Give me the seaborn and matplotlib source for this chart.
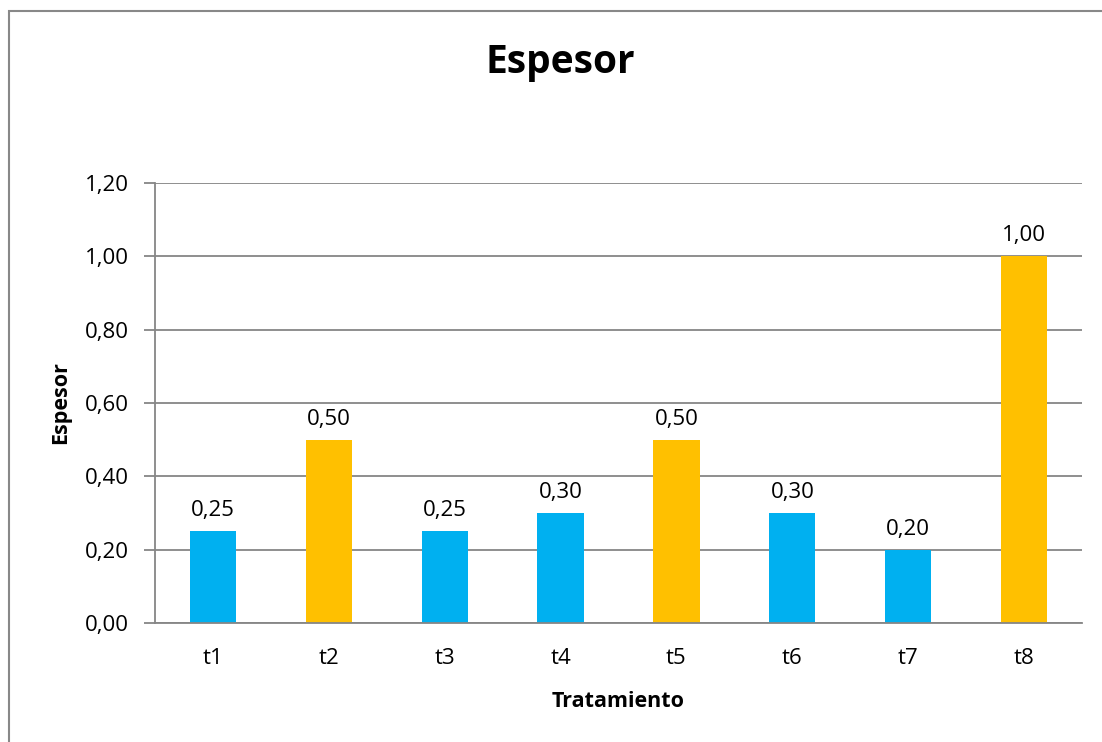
import matplotlib
matplotlib.use("Agg")
import matplotlib.pyplot as plt
import seaborn as sns
import pandas as pd
from matplotlib.patches import Rectangle
from matplotlib.ticker import FuncFormatter

categories = ["t1", "t2", "t3", "t4", "t5", "t6", "t7", "t8"]
values = [0.25, 0.50, 0.25, 0.30, 0.50, 0.30, 0.20, 1.00]
bar_colors = ["#00B0F0", "#FFC000", "#00B0F0", "#00B0F0", "#FFC000", "#00B0F0", "#00B0F0", "#FFC000"]
y_ticks = [0.0, 0.2, 0.4, 0.6, 0.8, 1.0, 1.2]
title = "Espesor"
x_label = "Tratamiento"
y_label = "Espesor"

sns.set_theme(style="white")
plt.rcParams['font.family'] = ['Open Sans', 'DejaVu Sans']
plt.rcParams['text.color'] = 'black'

df = pd.DataFrame({"cat": categories, "val": values})

fig = plt.figure(figsize=(11.02, 7.42), dpi=100)
fig.patch.set_facecolor("white")
# chart outer border
fig.add_artist(Rectangle((9/1102, -0.05), 1.2, (742-11)/742 + 0.05, transform=fig.transFigure,
                         fill=False, edgecolor="#888888", linewidth=1.5))

ax = fig.add_axes([155/1102, (742-623)/742, (1082-155)/1102, (623-183)/742])
sns.barplot(data=df, x="cat", y="val", hue="cat", palette=bar_colors, width=0.4,
            legend=False, ax=ax, saturation=1, linewidth=0)

ax.set_ylim(0, 1.2)
ax.set_xlim(-0.5, len(categories) - 0.5)
ax.set_yticks(y_ticks)
ax.yaxis.set_major_formatter(FuncFormatter(lambda v, p: f"{v:.2f}".replace(".", ",")))
ax.grid(axis="y", color="#868686", linewidth=1.3)
ax.set_axisbelow(True)
for s in ["top", "right"]:
    ax.spines[s].set_visible(False)
for s in ["left", "bottom"]:
    ax.spines[s].set_color("#868686")
    ax.spines[s].set_linewidth(1.3)
ax.tick_params(axis="y", length=8, width=1.3, color="#868686", labelsize=16, pad=11, left=True)
ax.tick_params(axis="x", length=0, labelsize=16, pad=18)
for t in ax.get_xticklabels() + ax.get_yticklabels():
    t.set_color("black")

for i, v in enumerate(values):
    ax.text(i, v + 0.027, f"{v:.2f}".replace(".", ","), ha="center", va="bottom", fontsize=16, color="black")

ax.set_xlabel(x_label, fontsize=15.5, fontweight="bold", labelpad=16, color="black")
ax.set_ylabel(y_label, fontsize=15.5, fontweight="bold", labelpad=10, color="black")
fig.text(560/1102, 1 - 63/742, title, ha="center", va="center", fontsize=28, fontweight="bold", color="black")

fig.savefig("out.png", dpi=100)
